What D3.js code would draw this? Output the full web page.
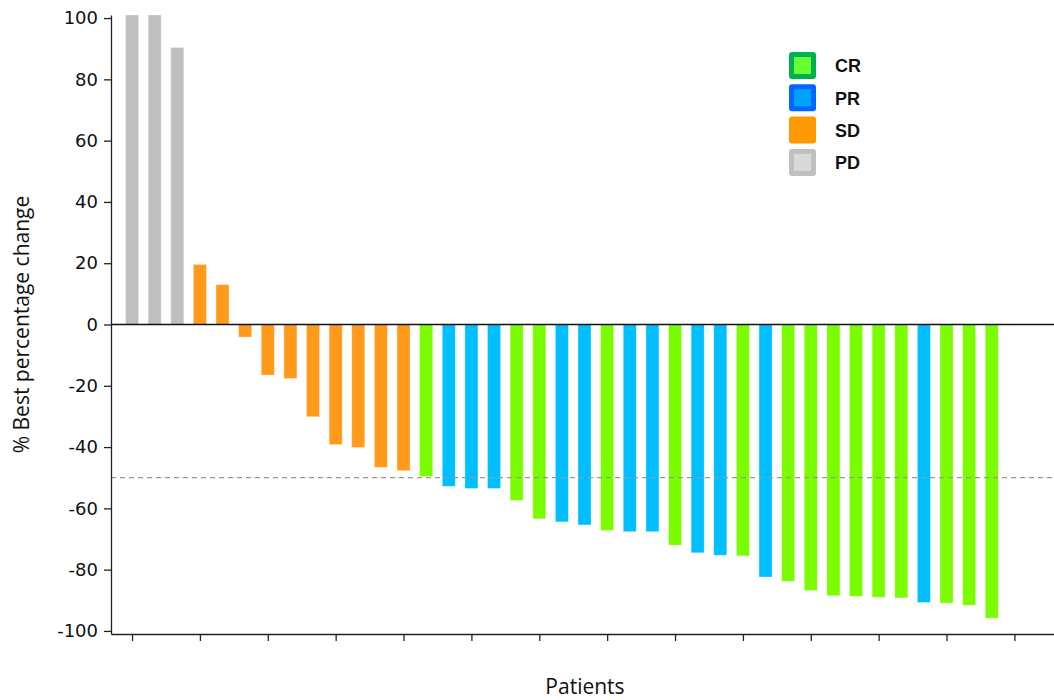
<!DOCTYPE html>
<html>
<head>
<meta charset="utf-8">
<script src="https://cdn.jsdelivr.net/npm/d3@7"></script>
<style>
  body { margin: 0; background: #fff; }
  svg { display: block; }
  .axis path, .axis line { stroke: #222; stroke-width: 1.3; }
  .axis text { font-family: "DejaVu Sans", sans-serif; font-size: 18px; fill: #111; }
</style>
</head>
<body>
<svg id="chart" width="1054" height="700"></svg>
<script>
'use strict'

// best % change per patient, sorted as in the waterfall
var values = [101, 101, 90.4,
  19.6, 13.0, -4.1, -16.5, -17.6, -30.1, -39.2, -40.1, -46.6, -47.7,
  -49.6, -52.8, -53.5, -53.5, -57.4, -63.4, -64.4, -65.4, -67.2, -67.6, -67.6, -72.0,
  -74.5, -75.3, -75.5, -82.4, -83.8, -86.8, -88.5, -88.7, -89.0, -89.2, -90.7, -90.9, -91.6, -95.8]

var response = ["PD", "PD", "PD",
  "SD", "SD", "SD", "SD", "SD", "SD", "SD", "SD", "SD", "SD",
  "CR", "PR", "PR", "PR", "CR", "CR", "PR", "PR", "CR", "PR", "PR", "CR",
  "PR", "PR", "CR", "PR", "CR", "CR", "CR", "CR", "CR", "CR", "PR", "CR", "CR", "CR"]

var categories = ["CR", "PR", "SD", "PD"]
var yTicks = [100, 80, 60, 40, 20, 0, -20, -40, -60, -80, -100]
var threshold = -50

var barColor = { CR: "#7cfc00", PR: "#00bfff", SD: "#ff9a1a", PD: "#bfbfbf" }
var legendOuter = { CR: "#00b050", PR: "#0066ff", SD: "#ff9900", PD: "#c0c0c0" }
var legendInner = { CR: "#66ff33", PR: "#00a2ff", SD: "#ff9900", PD: "#d9d9d9" }

var svg = d3.select("#chart")
var plotLeft = 111, plotRight = 1054, plotTop = 15, plotBottom = 634

var x = d3.scaleLinear().domain([-0.93, 40.75]).range([plotLeft, plotRight])
var y = d3.scaleLinear().domain([-101, 101]).range([plotBottom, plotTop])
var barW = 13

// bars
svg.append("g")
  .selectAll("rect")
  .data(values)
  .join("rect")
    .attr("x", (d, i) => x(i) - barW / 2)
    .attr("y", d => y(Math.max(0, d)))
    .attr("width", barW)
    .attr("height", d => Math.abs(y(d) - y(0)))
    .attr("fill", (d, i) => barColor[response[i]])
    .attr("stroke", "#fff")
    .attr("stroke-opacity", 0.35)
    .attr("stroke-width", 0.8)

// zero line
svg.append("line")
  .attr("x1", plotLeft).attr("x2", plotRight)
  .attr("y1", y(0)).attr("y2", y(0))
  .attr("stroke", "#111").attr("stroke-width", 1.3)

// -50% threshold
svg.append("line")
  .attr("x1", plotLeft).attr("x2", plotRight)
  .attr("y1", y(threshold)).attr("y2", y(threshold))
  .attr("stroke", "#999").attr("stroke-width", 1.3)
  .attr("stroke-dasharray", "5,4")

// y axis (plain hyphen for negatives, like the original)
svg.append("g")
  .attr("class", "axis")
  .attr("transform", "translate(" + plotLeft + ",0)")
  .call(d3.axisLeft(y).tickValues(yTicks).tickFormat(d => String(d))
    .tickSize(7).tickPadding(6).tickSizeOuter(0))

// x axis, ticks every 3 patients, no labels
svg.append("g")
  .attr("class", "axis")
  .attr("transform", "translate(0," + plotBottom + ")")
  .call(d3.axisBottom(x).tickValues(d3.range(0, 40, 3)).tickSize(7).tickFormat("").tickSizeOuter(0))

// axis titles
svg.append("text")
  .attr("x", 585).attr("y", 694)
  .attr("text-anchor", "middle")
  .style("font-family", "'Open Sans', sans-serif")
  .style("font-size", "21px")
  .attr("fill", "#111")
  .text("Patients")

svg.append("text")
  .attr("transform", "translate(29," + y(0) + ") rotate(-90)")
  .attr("text-anchor", "middle")
  .style("font-family", "'Open Sans', sans-serif")
  .style("font-size", "21px")
  .attr("fill", "#111")
  .text("% Best percentage change")

// legend
var lg = svg.append("g").attr("transform", "translate(789,52)")
var item = lg.selectAll("g")
  .data(categories)
  .join("g")
    .attr("transform", (d, i) => "translate(0," + i * 32.3 + ")")

item.append("rect")
  .attr("width", 27).attr("height", 27).attr("rx", 3)
  .attr("fill", d => legendOuter[d])
item.append("rect")
  .attr("x", 5).attr("y", 5)
  .attr("width", 17).attr("height", 17)
  .attr("fill", d => legendInner[d])
item.append("text")
  .attr("x", 46).attr("y", 14)
  .attr("dy", "0.36em")
  .style("font-family", "'Liberation Sans', Arial, sans-serif")
  .style("font-weight", "bold")
  .style("font-size", "18px")
  .attr("fill", "#111")
  .text(d => d)
</script>
</body>
</html>
